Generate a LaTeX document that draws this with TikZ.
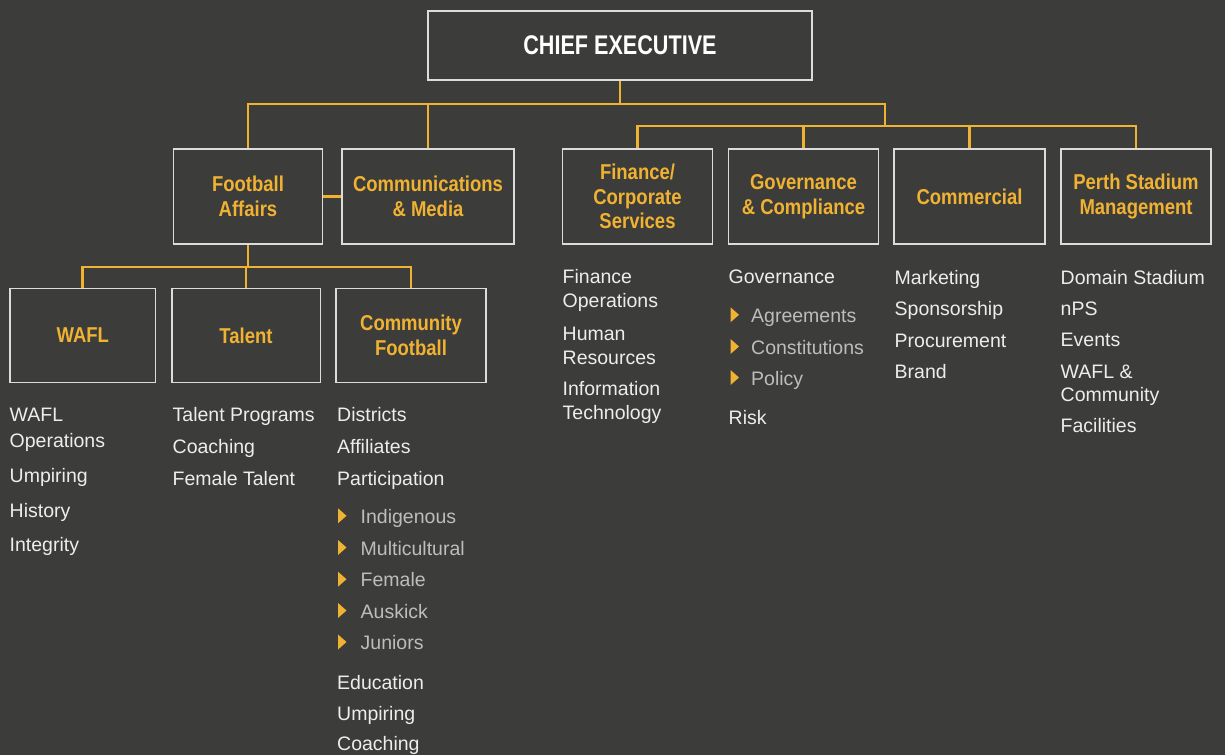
\documentclass[tikz,border=0pt]{standalone}
\usepackage{fontspec}
\setmainfont{Liberation Sans}
\newfontfamily\bodyfont{Liberation Sans}
\newfontfamily\headfont[FakeStretch=0.86]{Liberation Sans}
\newfontfamily\cefont[FakeStretch=0.8]{Liberation Sans}
\definecolor{bgc}{HTML}{3C3C3A}
\definecolor{orc}{HTML}{F0B232}
\definecolor{boxc}{HTML}{DCDCDC}
\definecolor{txtc}{HTML}{EDEDED}
\definecolor{subc}{HTML}{BDBDBD}
\pgfdeclarelayer{canvas}
\pgfdeclarelayer{wires}
\pgfsetlayers{canvas,wires,main}
\tikzset{
  orgbox/.style={draw=boxc, line width=1.5pt, fill=bgc, inner sep=0pt, align=center, text=orc,
    font=\headfont\bfseries\fontsize{21.5}{24.5}\selectfont},
  conn/.style={draw=orc, line width=2.7pt, line join=miter},
  txt/.style={anchor=base west, inner sep=0pt, text=txtc, font=\bodyfont\fontsize{19.5}{24}\selectfont},
  subtxt/.style={txt, text=subc},
  bullet/.style={fill=orc}
}
\begin{document}
\begin{tikzpicture}[x=1pt,y=-1pt]
\begin{pgfonlayer}{canvas}
\fill[bgc] (0,0) rectangle (1225,755);
\end{pgfonlayer}
\useasboundingbox (0,0) rectangle (1225,755);

% boxes
\node[orgbox, minimum width=384pt, minimum height=69pt, text=white,
      font=\cefont\bfseries\fontsize{27}{30}\selectfont] (ce) at (620,45.5) {CHIEF EXECUTIVE};
\node[orgbox, minimum width=149pt, minimum height=95pt] (fa) at (248,196.5) {Football\\Affairs};
\node[orgbox, minimum width=172pt, minimum height=95pt] (cm) at (428,196.5) {Communications\\\& Media};
\node[orgbox, minimum width=150pt, minimum height=95pt] (fc) at (637.5,196.5) {Finance/\\Corporate\\Services};
\node[orgbox, minimum width=150pt, minimum height=95pt] (gc) at (803.5,196.5) {Governance\\\& Compliance};
\node[orgbox, minimum width=151pt, minimum height=95pt] (co) at (969.5,196.5) {Commercial};
\node[orgbox, minimum width=150pt, minimum height=95pt] (ps) at (1136,196.5) {Perth Stadium\\Management};
\node[orgbox, minimum width=145.5pt, minimum height=94pt] (wa) at (82.75,335.5) {WAFL};
\node[orgbox, minimum width=148.5pt, minimum height=94pt] (ta) at (246,335.5) {Talent};
\node[orgbox, minimum width=150pt, minimum height=94pt] (cf) at (411,335.5) {Community\\Football};

% connectors
\coordinate (j1) at (620,104);
\coordinate (j2) at (885,104);
\coordinate (j3) at (885,126);
\coordinate (j4) at (248,267);
\begin{pgfonlayer}{wires}
\draw[conn] (ce.south) -- (j1);
\draw[conn] (fa.north) |- (j2) -- (j3);
\draw[conn] (cm.north) -- (cm.north |- j1);
\draw[conn] (fc.north) |- (j3) -| (ps.north);
\draw[conn] (gc.north) -- (gc.north |- j3);
\draw[conn] (co.north) -- (co.north |- j3);
\draw[conn] (fa.east) -- (cm.west);
\draw[conn] (fa.south) -- (j4);
\draw[conn] (wa.north) |- (j4) -| (cf.north);
\draw[conn] (ta.north) -- (ta.north |- j4);
\end{pgfonlayer}

% text lists
\foreach \t/\y [count=\i] in {WAFL/421.7, Operations/447.7, Umpiring/482, History/517, Integrity/551}
  \node[txt] (wat\i) at (9.5,\y) {\t};
\foreach \t/\y [count=\i] in {Talent Programs/421.7, Coaching/453.5, Female Talent/485}
  \node[txt] (tat\i) at (172.5,\y) {\t};
\foreach \t/\y [count=\i] in {Districts/421.7, Affiliates/453.3, Participation/485, Education/689, Umpiring/720, Coaching/750.7}
  \node[txt] (cft\i) at (337,\y) {\t};
\foreach \t/\y [count=\i] in {Indigenous/523.3, Multicultural/555, Female/586.7, Auskick/618, Juniors/649.5}{
  \node[subtxt] (cfs\i) at (360.5,\y) {\t};
  \fill[bullet] (338,\y-15) -- (346.5,\y-7.5) -- (338,\y) -- cycle;
}
\foreach \t/\y [count=\i] in {Finance/283.3, Operations/307.7, Human/340, Resources/364.3, Information/395, Technology/419.3}
  \node[txt] (fct\i) at (562.5,\y) {\t};
\foreach \t/\y [count=\i] in {Governance/283.3, Risk/424.3}
  \node[txt] (gct\i) at (728.5,\y) {\t};
\foreach \t/\y [count=\i] in {Agreements/322.3, Constitutions/354, Policy/385}{
  \node[subtxt] (gcs\i) at (751,\y) {\t};
  \fill[bullet] (730.5,\y-15) -- (739,\y-7.5) -- (730.5,\y) -- cycle;
}
\foreach \t/\y [count=\i] in {Marketing/284, Sponsorship/315.5, Procurement/347, Brand/378.5}
  \node[txt] (cot\i) at (894.5,\y) {\t};
\foreach \t/\y [count=\i] in {Domain Stadium/284, nPS/315, Events/346, {WAFL \&}/378.3, Community/401.7, Facilities/432.7}
  \node[txt] (pst\i) at (1060.5,\y) {\t};
\end{tikzpicture}
\end{document}
